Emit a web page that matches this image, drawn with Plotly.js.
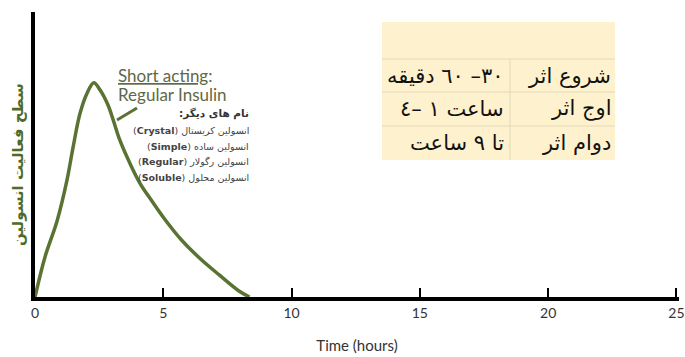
<!DOCTYPE html>
<html><head><meta charset="utf-8">
<script src="https://cdn.plot.ly/plotly-3.0.1.min.js"></script>
<style>html,body{margin:0;padding:0;background:#fff;}#chart{width:685px;height:357px;}</style>
</head><body><div id="chart"></div>
<script>
// Insulin activity curve (time in hours, relative activity level)
const timeHours = [0, 0.39, 0.86, 1.24, 1.48, 1.75, 2.02, 2.29, 2.53, 2.84, 3.07, 3.30, 3.69, 4.08, 4.55, 5.05, 5.71, 6.41, 7.18, 7.95, 8.36];
const activity  = [0, 18.7, 35.5, 54.2, 69.6, 85.5, 94.9, 100, 96.7, 89.7, 81.8, 73.4, 62.6, 53.3, 44.9, 36.4, 26.6, 18.2, 10.3, 2.8, 0];
const xTicks = [0, 5, 10, 15, 20, 25];
const xTitle = 'Time (hours)';
const yTitle = 'سطح فعالیت انسولین';
const tableLabels = ['شروع اثر', 'اوج اثر', 'دوام اثر'];
const tableValues = ['۳۰– ٦٠ دقیقه', 'ساعت ۱ –٤', 'تا ۹ ساعت'];
const otherNamesTitle = 'نام های دیگر:';
const otherNamesFa = ['انسولین کریستال', 'انسولین ساده', 'انسولین رگولار', 'انسولین محلول'];
const otherNamesEn = ['Crystal', 'Simple', 'Regular', 'Soluble'];

const RLE = '\u202B', PDF = '\u202C';
const rtl = s => RLE + s + PDF;

const green = '#5a7232';
const annColor = '#5f6848';
const ARFONT = 'DejaVu Sans';

// pixel helpers for decorations (plot area: x 35..679, y 12..297)
const PL = 35, PR = 679, PT = 12, PB = 297;
const px = p => (p - PL) / (PR - PL);
const py = p => (PB - p) / (PB - PT);

const annotations = [
  {xref:'paper', yref:'paper', x: px(18), y: py(165), xanchor:'center', yanchor:'middle',
   text: '<b>' + rtl(yTitle) + '</b>', textangle: -90,
   showarrow:false, font:{size:15, color:'#4e6b2a', family:ARFONT}},
  {xref:'paper', yref:'paper', x: px(116), y: py(75), xanchor:'left', yanchor:'middle',
   text:'<u>Short acting</u>:', showarrow:false, font:{size:17, color:annColor, family:'Lato'}},
  {xref:'paper', yref:'paper', x: px(116), y: py(94), xanchor:'left', yanchor:'middle',
   text:'Regular Insulin', showarrow:false, font:{size:17, color:annColor, family:'Lato'}},
  {xref:'paper', yref:'paper', x: px(251), y: py(113), xanchor:'right', yanchor:'middle',
   text:'<b>' + rtl(otherNamesTitle) + '</b>', showarrow:false, font:{size:10.5, color:'#333', family:ARFONT}}
];
const nameYs = [130, 146, 161, 177];
otherNamesFa.forEach((n, i) => {
  annotations.push({xref:'paper', yref:'paper', x: px(251), y: py(nameYs[i]), xanchor:'right', yanchor:'middle',
    text: RLE + n + ' (<b>' + otherNamesEn[i] + '</b>)' + PDF, showarrow:false,
    font:{size:9.5, color:'#444', family:ARFONT}});
});
const rowYs = [76, 109, 143];
tableLabels.forEach((l, i) => {
  annotations.push({xref:'paper', yref:'paper', x: px(613), y: py(rowYs[i]), xanchor:'right', yanchor:'middle',
    text: rtl(l), showarrow:false, font:{size:21, color:'#111', family:ARFONT}});
  annotations.push({xref:'paper', yref:'paper', x: px(506), y: py(rowYs[i]), xanchor:'right', yanchor:'middle',
    text: rtl(tableValues[i]), showarrow:false, font:{size:21, color:'#111', family:ARFONT}});
});

const trace = {
  x: timeHours, y: activity, type: 'scatter', mode: 'lines',
  line: {color: green, width: 3.5, shape: 'spline', smoothing: 1},
  hoverinfo: 'skip'
};

const lineC = '#e2d8ba';
const shapes = [
  {type:'rect', xref:'paper', yref:'paper', x0:px(382), x1:px(615), y0:py(160), y1:py(22),
   fillcolor:'#fdf2cd', line:{width:0}, layer:'below'},
  {type:'line', xref:'paper', yref:'paper', x0:px(382), x1:px(615), y0:py(59), y1:py(59), line:{color:lineC, width:1}},
  {type:'line', xref:'paper', yref:'paper', x0:px(382), x1:px(615), y0:py(92), y1:py(92), line:{color:lineC, width:1}},
  {type:'line', xref:'paper', yref:'paper', x0:px(382), x1:px(615), y0:py(126), y1:py(126), line:{color:lineC, width:1}},
  {type:'line', xref:'paper', yref:'paper', x0:px(510), x1:px(510), y0:py(59), y1:py(160), line:{color:lineC, width:1}},
  {type:'line', xref:'paper', yref:'paper', x0:px(117), x1:px(137), y0:py(120), y1:py(108), line:{color:green, width:3}}
];

const layout = {
  width: 685, height: 357,
  margin: {l: PL, r: 685 - PR, t: PT, b: 357 - PB},
  paper_bgcolor: '#fff', plot_bgcolor: '#fff',
  showlegend: false,
  xaxis: {
    range: [0, 25.1], tickmode: 'array', tickvals: xTicks, ticktext: xTicks.map(String),
    ticks: 'inside', ticklen: 9, tickwidth: 2, tickcolor: '#000',
    showline: true, linecolor: '#000', linewidth: 4,
    showgrid: false, zeroline: false, ticklabeloverflow: 'allow',
    tickfont: {size: 14, color: '#333', family: 'Lato'},
    title: {text: xTitle, font: {size: 15, color: '#333', family: 'Lato'}, standoff: 22}
  },
  yaxis: {
    range: [0, 133], showticklabels: false, ticks: '',
    showline: true, linecolor: '#000', linewidth: 4,
    showgrid: false, zeroline: false
  },
  annotations: annotations,
  shapes: shapes
};

Plotly.newPlot('chart', [trace], layout, {displayModeBar: false, staticPlot: true});
</script>
</body></html>
